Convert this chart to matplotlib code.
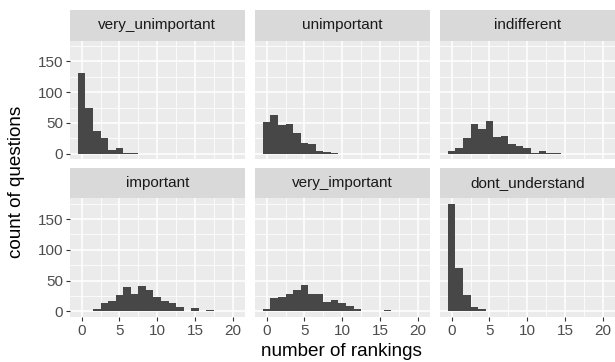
import numpy as np
import matplotlib
matplotlib.use("Agg")
import matplotlib.pyplot as plt

plt.rcParams['font.family'] = ['Liberation Sans', 'DejaVu Sans']

# counts per bin (binwidth 1, bins centred on 0, 1, 2, ...)
very_unimportant = [132, 74, 37, 25, 6, 9, 1, 1]
unimportant = [51, 63, 47, 49, 34, 17, 15, 5, 2, 1]
indifferent = [5, 10, 26, 48, 40, 54, 27, 29, 15, 13, 9, 1, 4, 1, 1]
important = [0, 1, 4, 13, 16, 27, 39, 28, 41, 35, 24, 16, 14, 7, 1, 6, 0, 2, 0, 0, 1]
very_important = [3, 21, 24, 28, 35, 42, 28, 28, 15, 18, 14, 9, 4, 1, 1, 0, 2]
dont_understand = [175, 70, 27, 7, 3, 1, 0, 1, 0, 0, 0, 0, 1]

facets = ['very_unimportant', 'unimportant', 'indifferent',
          'important', 'very_important', 'dont_understand']
counts = [very_unimportant, unimportant, indifferent,
          important, very_important, dont_understand]

x_ticks = [0, 5, 10, 15, 20]
y_ticks = [0, 50, 100, 150]

W, H = 615, 362
fig = plt.figure(figsize=(W / 100, H / 100), dpi=100)

panel_left = [70, 255, 440]
panel_w = 174.5
panel_top = [40.7, 198.3]
panel_h = 118.4
strip_h = 30.5

for i, (name, c) in enumerate(zip(facets, counts)):
    row, col = divmod(i, 3)
    l = panel_left[col]
    t = panel_top[row]
    ax = fig.add_axes([l / W, 1 - (t + panel_h) / H, panel_w / W, panel_h / H])
    ax.set_facecolor('#EBEBEB')
    ax.bar(np.arange(len(c)), c, width=1.0, color='#474747', linewidth=0)
    ax.set_xlim(-1.55, 21.55)
    ax.set_ylim(-8.75, 183.75)
    ax.set_xticks(x_ticks)
    ax.set_yticks(y_ticks)
    ax.set_xticks([2.5, 7.5, 12.5, 17.5], minor=True)
    ax.set_yticks([25, 75, 125, 175], minor=True)
    ax.set_axisbelow(True)
    ax.grid(which='major', color='white', linewidth=1.1)
    ax.grid(which='minor', color='white', linewidth=0.55)
    for s in ax.spines.values():
        s.set_visible(False)
    ax.tick_params(which='minor', length=0)
    ax.tick_params(which='major', length=3, width=0.8, color='#333333',
                   labelcolor='#4D4D4D', labelsize=11, pad=2)
    if row == 0:
        ax.tick_params(axis='x', which='major', length=0, labelbottom=False)
    if col != 0:
        ax.tick_params(axis='y', which='major', length=0, labelleft=False)

    sax = fig.add_axes([l / W, 1 - t / H, panel_w / W, strip_h / H])
    sax.set_facecolor('#D9D9D9')
    sax.set_xticks([])
    sax.set_yticks([])
    for s in sax.spines.values():
        s.set_visible(False)
    sax.text(0.5, 0.5, name, ha='center', va='center', fontsize=11,
             color='#1A1A1A', transform=sax.transAxes)

fig.text(341 / W, 1 - 351 / H, 'number of rankings', ha='center', va='center',
         fontsize=13.6, color='black')
fig.text(17 / W, 1 - 182 / H, 'count of questions', ha='center', va='center',
         rotation=90, fontsize=13.6, color='black')

fig.savefig('out.png', dpi=100)
